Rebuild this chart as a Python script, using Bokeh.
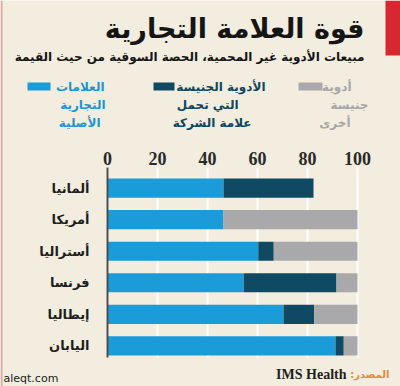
from bokeh.plotting import figure
from bokeh.models import Range1d, Label, BoxAnnotation, ColumnDataSource
from bokeh.core.properties import value
from bokeh.embed import file_html
from bokeh.resources import INLINE

# ---------------- data ----------------
countries = ["ألمانيا", "أمريكا", "أستراليا", "فرنسا", "إيطاليا", "اليابان"]
brand_original = [46.4, 46.4, 60.3, 54.5, 70.4, 91.2]      # العلامات التجارية الأصلية
generic_branded = [36.0, 0.0, 6.2, 37.1, 12.3, 3.3]        # الأدوية الجنيسة التي تحمل علامة الشركة
generic_other = [0.0, 53.6, 33.5, 8.4, 17.3, 5.5]          # أدوية جنيسة أخرى
x_ticks = [0, 20, 40, 60, 80, 100]
x_tick_labels = ["0", "20", "40", "60", "80", "100"]

series_keys = ["brand_original", "generic_branded", "generic_other"]
series_labels = [
    ["العلامات", "التجارية", "الأصلية"],
    ["الأدوية الجنيسة", "التي تحمل", "علامة الشركة"],
    ["أدوية", "جنيسة", "أخرى"],
]
title_text = "قوة العلامة التجارية"
subtitle_text = "مبيعات الأدوية غير المحمية، الحصة السوقية من حيث القيمة"
source_label = "المصدر:\u200f"
source_name = "IMS Health"
watermark = "aleqt.com"

# ---------------- styles / layout ----------------
BG = "#f3eddf"
BLUE = "#1b9bd7"
DARK = "#0f4a62"
GREY = "#a9a9ab"
TEXT_COLORS = ["#1f94d0", "#0e4660", "#a6a6a6"]
AR_FONT = "DejaVu Sans"

W, H = 400, 386
X0_PX, X_SCALE = 107, 2.5          # pixel of value 0, pixels per unit
Y0_PX, Y_SCALE = 187.7, 31.52      # pixel of first category centre, pixels per category
PLOT_TOP_PX, PLOT_BOTTOM_PX = 167, 357


def dx(px):
    return (px - X0_PX) / X_SCALE


def dy(py):
    return (py - Y0_PX) / Y_SCALE


ypos = list(range(len(countries)))
src = ColumnDataSource(dict(y=ypos, brand_original=brand_original,
                            generic_branded=generic_branded, generic_other=generic_other))

p = figure(width=W, height=H, output_backend="svg", toolbar_location=None,
           x_range=Range1d(dx(0), dx(W)), y_range=Range1d(dy(H), dy(0)),
           min_border=0)
p.background_fill_color = BG
p.border_fill_color = BG
p.outline_line_color = None
p.axis.visible = False
p.grid.grid_line_color = None

# white vertical gridlines
n = len(x_ticks)
p.segment(x0=x_ticks, x1=x_ticks, y0=[dy(PLOT_TOP_PX)] * n, y1=[dy(PLOT_BOTTOM_PX)] * n,
          line_color="white", line_width=2)

# stacked bars
p.hbar_stack(series_keys, y="y", height=0.61, source=src,
             fill_color=[BLUE, DARK, GREY], line_color=None)

# axis line at 0
p.segment(x0=[0], x1=[0], y0=[dy(PLOT_TOP_PX)], y1=[dy(PLOT_BOTTOM_PX)],
          line_color="#4d4d4d", line_width=2)

# tick labels (top)
p.text(x=x_ticks, y=[dy(158)] * n, text=x_tick_labels, text_align="center",
       text_baseline="middle", text_font=value("Liberation Serif"),
       text_font_style="bold", text_font_size="18px", text_color="#2a2a2a")

# country labels
p.text(x=[dx(89)] * len(countries), y=ypos, text=countries, text_align="right",
       text_baseline="middle", text_font=value(AR_FONT), text_font_style="bold",
       text_font_size="13px", text_color="#1e1e1e")


def lab(text, rx, ry, size, color, align="right", font=AR_FONT, style="bold"):
    p.add_layout(Label(x=rx, y=H - ry, x_units="screen", y_units="screen",
                       text=text, text_align=align, text_baseline="middle",
                       text_font=font, text_font_style=style,
                       text_font_size=size, text_color=color))


def box(l, r, t, b, color):
    p.add_layout(BoxAnnotation(left=l, right=r, top=H - t, bottom=H - b,
                               left_units="screen", right_units="screen",
                               top_units="screen", bottom_units="screen",
                               fill_color=color, fill_alpha=1, line_color=None))


# decorative edges
box(385, 400, 0, 55, "#d6282e")
box(0, 2, 0, H, "#d9aaa2")

# titles
lab(title_text, 364, 28, "27px", "#151515")
lab(subtitle_text, 364, 56, "12px", "#151515")

# legend (text right edges per line, as in the original)
sw = [(27, 50), (153, 174), (298, 322)]
right_edges = [[104, 105, 100], [265, 238, 251], [351, 368, 350]]
line_y = [86, 104, 122]
for i in range(3):
    box(sw[i][0], sw[i][1], 82, 90, [BLUE, DARK, GREY][i])
    for j, t in enumerate(series_labels[i]):
        lab(t, right_edges[i][j], line_y[j], "12px", TEXT_COLORS[i])

# source
lab(source_label, 389, 374, "10px", "#e8893a")
lab(source_name, 346, 374, "14px", "#1e1e1e", font="Liberation Serif")
lab(watermark, 3, 378, "11px", "#222222", align="left", style="normal")

open("out.html", "w").write(file_html(p, INLINE))
